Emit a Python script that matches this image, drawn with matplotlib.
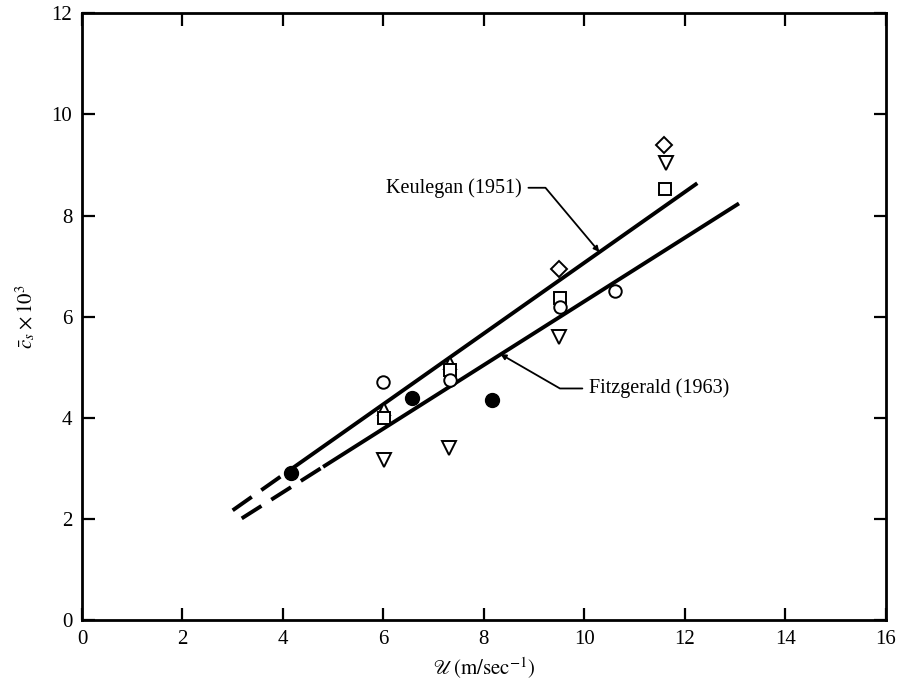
import matplotlib
matplotlib.use("Agg")
import matplotlib.pyplot as plt

plt.rcParams['font.family'] = ['Liberation Serif', 'DejaVu Serif']
plt.rcParams['mathtext.fontset'] = 'stix'

# data
open_circ_x = [6.0, 7.32, 9.52, 10.62]
open_circ_y = [4.70, 4.74, 6.19, 6.50]
filled_x = [4.17, 6.58, 8.17]
filled_y = [2.91, 4.39, 4.35]
square_x = [6.02, 7.32, 9.52, 11.61]
square_y = [3.99, 4.94, 6.36, 8.52]
tri_down_x = [6.02, 7.30, 9.50, 11.63]
tri_down_y = [3.16, 3.40, 5.59, 9.03]
tri_up_x = [6.02, 7.32]
tri_up_y = [4.17, 5.08]
diamond_x = [9.50, 11.59]
diamond_y = [6.95, 9.39]

# Keulegan (1951): dashed part then solid part
keul_dash_x = [3.0, 4.2]
keul_dash_y = [2.17, 3.01]
keul_x = [4.2, 12.25]
keul_y = [3.01, 8.64]
# Fitzgerald (1963)
fitz_dash_x = [3.18, 4.8]
fitz_dash_y = [2.01, 3.03]
fitz_x = [4.8, 13.08]
fitz_y = [3.03, 8.24]

xticks = [0, 2, 4, 6, 8, 10, 12, 14, 16]
yticks = [0, 2, 4, 6, 8, 10, 12]

fig = plt.figure(figsize=(9.04, 6.91), dpi=100)
ax = fig.add_axes([0.0907, 0.1027, 0.889, 0.878])

lw = 2.8
ax.plot(keul_x, keul_y, color='black', lw=lw, solid_capstyle='butt')
ax.plot(keul_dash_x, keul_dash_y, color='black', lw=lw, dashes=(6, 3))
ax.plot(fitz_x, fitz_y, color='black', lw=lw, solid_capstyle='butt')
ax.plot(fitz_dash_x, fitz_dash_y, color='black', lw=lw, dashes=(6, 3))

mk = dict(linestyle='none', mfc='white', mec='black', mew=1.4, zorder=3)
ax.plot(tri_up_x, tri_up_y, marker='^', ms=9, **mk)
ax.plot(square_x, square_y, marker='s', ms=8, **mk)
ax.plot(open_circ_x, open_circ_y, marker='o', ms=9, **mk)
ax.plot(tri_down_x, tri_down_y, marker='v', ms=10, **mk)
ax.plot(diamond_x, diamond_y, marker='D', ms=8, **mk)
ax.plot(filled_x, filled_y, marker='o', ms=10, linestyle='none', color='black', zorder=3)

# annotations with leader lines
ax.annotate('Keulegan (1951)', xy=(10.3, 7.28), xytext=(8.75, 8.55),
            fontsize=14.5, ha='right', va='center',
            arrowprops=dict(arrowstyle='-|>', color='black', lw=1.3,
                            connectionstyle='angle,angleA=0,angleB=-50,rad=0',
                            shrinkA=3, shrinkB=0, mutation_scale=8))
ax.annotate('Fitzgerald (1963)', xy=(8.33, 5.26), xytext=(10.1, 4.58),
            fontsize=14.5, ha='left', va='center',
            arrowprops=dict(arrowstyle='-|>', color='black', lw=1.3,
                            connectionstyle='angle,angleA=0,angleB=-30,rad=0',
                            shrinkA=3, shrinkB=0, mutation_scale=8))

ax.set_xlim(0, 16)
ax.set_ylim(0, 12)
ax.set_xticks(xticks)
ax.set_yticks(yticks)
ax.tick_params(direction='in', length=9, width=1.6, top=True, right=True,
               labelsize=15, pad=7)
for s in ax.spines.values():
    s.set_linewidth(2.0)

ax.set_xlabel(r'$\mathscr{U}\,(\mathrm{m/sec}^{-1})$', fontsize=15, labelpad=5)
ax.set_ylabel(r'$\bar{c}_s \times 10^3$', fontsize=15, labelpad=10)

fig.savefig('out.png', dpi=100)
